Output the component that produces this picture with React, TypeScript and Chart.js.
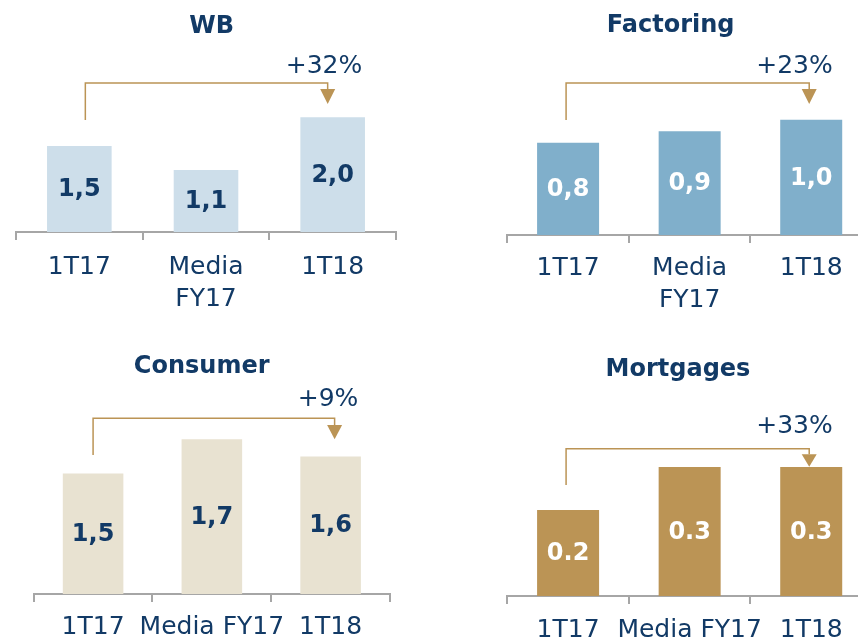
import React, { useEffect, useRef } from "react";
import { Chart, registerables } from "chart.js";

Chart.register(...registerables);

// ---- data ----
const twoLineCategories: (string | string[])[] = ["1T17", ["Media", "FY17"], "1T18"];
const oneLineCategories: string[] = ["1T17", "Media FY17", "1T18"];
const wbValues = [1.5, 1.08, 2.0];
const factoringValues = [0.8, 0.9, 1.0];
const consumerValues = [1.5, 1.7, 1.6];
const mortgagesValues = [0.2, 0.3, 0.3];
const panelTitles = ["WB", "Factoring", "Consumer", "Mortgages"];
const growthLabels = ["+32%", "+23%", "+9%", "+33%"];

// ---- styles ----
const FONT = "'DejaVu Sans', sans-serif";
const NAVY = "#123A66";
const GOLD = "#BB9455";
const AXIS_GRAY = "#A6A6A6";

type PanelProps = {
  left: number;
  top: number;
  width: number;
  height: number;
  pad: { l: number; r: number; t: number };
  xh: number;
  tickPad: number;
  min: number;
  max: number;
  color: string;
  labelColor: string;
  sep: string;
  labels: (string | string[])[];
  values: number[];
  title: string;
  titlePos: [number, number];
  growth: string;
  growthPos: [number, number];
  bTop: number;
  bBottom: number;
  triTop: number;
  triTip: number;
  dxL: number;
  dxR: number;
};

function Panel(p: PanelProps) {
  const ref = useRef<HTMLCanvasElement>(null);
  useEffect(() => {
    const canvas = ref.current!;
    const overlay = {
      id: "overlay",
      afterDatasetsDraw(chart: any) {
        const ctx = chart.ctx;
        const meta = chart.getDatasetMeta(0);
        const bottom = chart.chartArea.bottom;
        ctx.save();
        ctx.font = `bold 24px ${FONT}`;
        ctx.fillStyle = p.labelColor;
        ctx.textAlign = "center";
        ctx.textBaseline = "middle";
        meta.data.forEach((bar: any, i: number) => {
          const { x, y, base } = bar.getProps(["x", "y", "base"], true);
          const b = Math.min(base, bottom);
          const txt = p.values[i].toFixed(1).replace(".", p.sep);
          ctx.fillText(txt, x, (y + b) / 2 + 1);
        });
        ctx.restore();
      },
      afterDraw(chart: any) {
        const ctx = chart.ctx;
        const xs = chart.scales.x;
        ctx.save();
        // title
        ctx.font = `bold 24px ${FONT}`;
        ctx.fillStyle = NAVY;
        ctx.textAlign = "center";
        ctx.textBaseline = "alphabetic";
        ctx.fillText(p.title, p.titlePos[0], p.titlePos[1]);
        // growth label
        ctx.font = `25px ${FONT}`;
        ctx.fillText(p.growth, p.growthPos[0], p.growthPos[1]);
        // bracket
        const xl = xs.getPixelForValue(0) + p.dxL;
        const xr = xs.getPixelForValue(2) + p.dxR;
        ctx.strokeStyle = GOLD;
        ctx.lineWidth = 1.5;
        ctx.beginPath();
        ctx.moveTo(xl, p.bBottom);
        ctx.lineTo(xl, p.bTop);
        ctx.lineTo(xr, p.bTop);
        ctx.lineTo(xr, p.triTop);
        ctx.stroke();
        ctx.fillStyle = GOLD;
        ctx.beginPath();
        ctx.moveTo(xr - 7.5, p.triTop);
        ctx.lineTo(xr + 7.5, p.triTop);
        ctx.lineTo(xr, p.triTip);
        ctx.closePath();
        ctx.fill();
        ctx.restore();
      },
    };
    const chart = new Chart(canvas, {
      type: "bar",
      data: {
        labels: p.labels as any,
        datasets: [
          {
            data: p.values,
            backgroundColor: p.color,
            borderWidth: 0,
            barPercentage: 0.51,
            categoryPercentage: 1,
          },
        ],
      },
      options: {
        responsive: false,
        animation: false,
        devicePixelRatio: 1,
        layout: { padding: { left: p.pad.l, right: p.pad.r, top: p.pad.t, bottom: 0 } },
        plugins: {
          legend: { display: false },
          tooltip: { enabled: false },
          title: { display: false },
        },
        scales: {
          x: {
            afterFit: (s: any) => {
              s.height = p.xh;
            },
            grid: {
              display: true,
              drawOnChartArea: false,
              drawTicks: true,
              tickLength: 8,
              color: AXIS_GRAY,
              lineWidth: 2,
              offset: true,
            },
            border: { display: true, color: AXIS_GRAY, width: 2 },
            ticks: {
              autoSkip: false,
              maxRotation: 0,
              minRotation: 0,
              padding: p.tickPad,
              color: NAVY,
              font: { family: FONT, size: 25, lineHeight: 1.28 },
            },
          },
          y: { display: false, min: p.min, max: p.max },
        },
      } as any,
      plugins: [overlay],
    });
    return () => chart.destroy();
  }, []);
  return (
    <canvas
      ref={ref}
      width={p.width}
      height={p.height}
      style={{ position: "absolute", left: p.left, top: p.top, width: p.width, height: p.height }}
    />
  );
}

export default function App() {
  const panels: PanelProps[] = [
    {
      left: 0, top: 0, width: 429, height: 320,
      pad: { l: 16, r: 33, t: 60 }, xh: 88, tickPad: 11, min: 0, max: 3.0,
      color: "#CDDEEA", labelColor: NAVY, sep: ",",
      labels: twoLineCategories, values: wbValues,
      title: panelTitles[0], titlePos: [211.7, 33],
      growth: growthLabels[0], growthPos: [324, 72.7],
      bTop: 83, bBottom: 120, triTop: 89, triTip: 104, dxL: 6, dxR: -5,
    },
    {
      left: 430, top: 0, width: 442, height: 320,
      pad: { l: 77.3, r: 0, t: 62 }, xh: 85, tickPad: 9, min: 0, max: 1.5,
      color: "#80AFCB", labelColor: "#FFFFFF", sep: ",",
      labels: twoLineCategories, values: factoringValues,
      title: panelTitles[1], titlePos: [240.7, 31.7],
      growth: growthLabels[1], growthPos: [364.5, 72.7],
      bTop: 83, bBottom: 120, triTop: 89, triTip: 104, dxL: -2, dxR: -2,
    },
    {
      left: 0, top: 320, width: 429, height: 320,
      pad: { l: 33.7, r: 39, t: 102 }, xh: 46, tickPad: 9, min: 0.8, max: 1.8,
      color: "#E8E2D1", labelColor: NAVY, sep: ",",
      labels: oneLineCategories, values: consumerValues,
      title: panelTitles[2], titlePos: [201.7, 53.3],
      growth: growthLabels[2], growthPos: [328, 85.7],
      bTop: 98.3, bBottom: 135, triTop: 105, triTip: 119.3, dxL: 0, dxR: 4,
    },
    {
      left: 430, top: 320, width: 442, height: 320,
      pad: { l: 77.3, r: 0, t: 104 }, xh: 44, tickPad: 10, min: 0, max: 0.4,
      color: GOLD, labelColor: "#FFFFFF", sep: ".",
      labels: oneLineCategories, values: mortgagesValues,
      title: panelTitles[3], titlePos: [248, 55.7],
      growth: growthLabels[3], growthPos: [364.5, 112.7],
      bTop: 128.7, bBottom: 165, triTop: 134.3, triTip: 146.7, dxL: -2, dxR: -2,
    },
  ];
  return (
    <div
      style={{
        position: "fixed",
        left: 0,
        top: 0,
        width: 858,
        height: 640,
        overflow: "hidden",
        background: "#FFFFFF",
      }}
    >
      {panels.map((p, i) => (
        <Panel key={i} {...p} />
      ))}
    </div>
  );
}
